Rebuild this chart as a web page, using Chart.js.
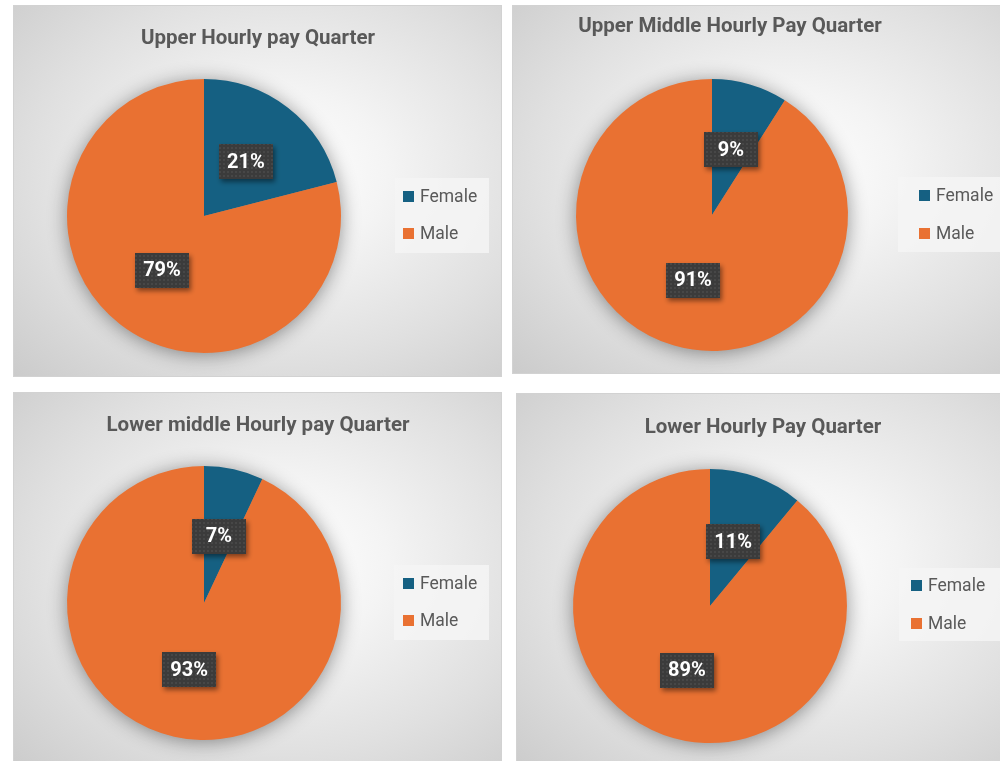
<!DOCTYPE html>
<html>
<head>
<meta charset="utf-8">
<script src="https://cdn.jsdelivr.net/npm/chart.js@4.4.1/dist/chart.umd.min.js"></script>
<style>
  html, body { margin: 0; padding: 0; background: #fff; }
  #stage { position: relative; width: 1000px; height: 761px; overflow: hidden; }
  .panel {
    position: absolute;
    box-sizing: border-box;
    border: 1px solid #d2d2d2;
    background: radial-gradient(ellipse at 55% 45%, #ffffff 0%, #f4f4f4 28%, #e0e0e0 65%, #cbcbcb 100%);
  }
  .panel canvas { position: absolute; left: 0; top: 0; }
  .title {
    position: absolute;
    transform: translate(-50%, -50%);
    white-space: nowrap;
    font: bold 20.5px Roboto, sans-serif;
    color: #595959;
  }
  .legend {
    position: absolute;
    background: rgba(244, 244, 244, 0.85);
  }
  .legend-item {
    position: absolute;
    white-space: nowrap;
    font: 17.5px Roboto, sans-serif;
    color: #595959;
    transform: translateY(-50%);
    display: flex;
    align-items: center;
  }
  .legend-item span.sw { display: inline-block; width: 11px; height: 11px; margin-right: 6px; }
</style>
</head>
<body>
<div id="stage"></div>
<script>
// data
const categories = ['Female', 'Male'];
const chartTitles = [
  'Upper Hourly pay Quarter',
  'Upper Middle Hourly Pay Quarter',
  'Lower middle Hourly pay Quarter',
  'Lower Hourly Pay Quarter'
];
const upperValues = [21, 79];
const upperMiddleValues = [9, 91];
const lowerMiddleValues = [7, 93];
const lowerValues = [11, 89];
const sliceColors = ['#156082', '#E97132'];

// layout of the four panels (page pixels)
const panels = [
  { values: upperValues, box: [13, 5, 489, 372], pie: [203, 215, 137], titleAt: [257, 36],
    legendBox: [394, 177, 94, 75], legendX: 402, legendY: [195, 232] },
  { values: upperMiddleValues, box: [512, 5, 500, 369], pie: [711, 214, 136], titleAt: [729, 24],
    legendBox: [897, 176, 110, 75], legendX: 918, legendY: [194, 232] },
  { values: lowerMiddleValues, box: [13, 392, 489, 380], pie: [203, 602, 137], titleAt: [257, 423],
    legendBox: [393, 564, 95, 75], legendX: 402, legendY: [582, 619] },
  { values: lowerValues, box: [516, 393, 500, 380], pie: [709, 605, 137], titleAt: [762, 425],
    legendBox: [898, 567, 110, 73], legendX: 910, legendY: [584, 622] }
];

function labelPattern() {
  const c = document.createElement('canvas');
  c.width = 4; c.height = 4;
  const g = c.getContext('2d');
  g.fillStyle = '#3b3b3b';
  g.fillRect(0, 0, 4, 4);
  g.fillStyle = '#474747';
  g.fillRect(1, 1, 2, 2);
  return c;
}
const patternCanvas = labelPattern();

// soft halo under the pie
const pieShadow = {
  id: 'pieShadow',
  beforeDatasetsDraw(chart) {
    const arc = chart.getDatasetMeta(0).data[0];
    if (!arc) return;
    const ctx = chart.ctx;
    ctx.save();
    ctx.shadowColor = 'rgba(0,0,0,0.45)';
    ctx.shadowBlur = 20;
    ctx.shadowOffsetY = 2;
    ctx.fillStyle = '#888';
    ctx.beginPath();
    ctx.arc(arc.x, arc.y, arc.outerRadius - 1, 0, Math.PI * 2);
    ctx.fill();
    ctx.restore();
  }
};

// percentage boxes on the slices
const boxLabels = {
  id: 'boxLabels',
  afterDatasetsDraw(chart) {
    const ctx = chart.ctx;
    const values = chart.data.datasets[0].data;
    chart.getDatasetMeta(0).data.forEach((arc, i) => {
      const p = arc.tooltipPosition();
      const w = 54, h = 35;
      const x = Math.round(p.x - w / 2), y = Math.round(p.y - h / 2);
      ctx.save();
      ctx.shadowColor = 'rgba(0,0,0,0.45)';
      ctx.shadowBlur = 5;
      ctx.shadowOffsetX = 2;
      ctx.shadowOffsetY = 3;
      ctx.fillStyle = ctx.createPattern(patternCanvas, 'repeat');
      ctx.fillRect(x, y, w, h);
      ctx.restore();
      ctx.save();
      ctx.fillStyle = '#ffffff';
      ctx.font = 'bold 20px Roboto, sans-serif';
      ctx.textAlign = 'center';
      ctx.textBaseline = 'middle';
      ctx.fillText(values[i] + '%', p.x, p.y + 1);
      ctx.restore();
    });
  }
};

const stage = document.getElementById('stage');

panels.forEach((p, idx) => {
  const [bx, by, bw, bh] = p.box;
  const [cx, cy, r] = p.pie;
  const div = document.createElement('div');
  div.className = 'panel';
  div.style.left = bx + 'px';
  div.style.top = by + 'px';
  div.style.width = bw + 'px';
  div.style.height = bh + 'px';
  stage.appendChild(div);

  const canvas = document.createElement('canvas');
  canvas.width = bw;
  canvas.height = bh;
  canvas.style.width = bw + 'px';
  canvas.style.height = bh + 'px';
  div.appendChild(canvas);

  // title
  const t = document.createElement('div');
  t.className = 'title';
  t.textContent = chartTitles[idx];
  t.style.left = (p.titleAt[0] - bx) + 'px';
  t.style.top = (p.titleAt[1] - by) + 'px';
  div.appendChild(t);

  // legend
  const lg = document.createElement('div');
  lg.className = 'legend';
  lg.style.left = (p.legendBox[0] - bx) + 'px';
  lg.style.top = (p.legendBox[1] - by) + 'px';
  lg.style.width = p.legendBox[2] + 'px';
  lg.style.height = p.legendBox[3] + 'px';
  div.appendChild(lg);
  categories.forEach((cat, i) => {
    const item = document.createElement('div');
    item.className = 'legend-item';
    item.style.left = (p.legendX - bx) + 'px';
    item.style.top = (p.legendY[i] - by) + 'px';
    item.innerHTML = '<span class="sw" style="background:' + sliceColors[i] + '"></span>' + cat;
    div.appendChild(item);
  });

  const left = cx - r - bx;
  const top = cy - r - by;
  new Chart(canvas.getContext('2d'), {
    type: 'pie',
    data: {
      labels: categories,
      datasets: [{
        data: p.values,
        backgroundColor: sliceColors,
        borderWidth: 0
      }]
    },
    options: {
      responsive: false,
      animation: false,
      layout: {
        padding: { left: left, top: top, right: bw - left - 2 * r, bottom: bh - top - 2 * r }
      },
      plugins: {
        legend: { display: false },
        tooltip: { enabled: false },
        title: { display: false }
      }
    },
    plugins: [pieShadow, boxLabels]
  });
});
</script>
</body>
</html>
